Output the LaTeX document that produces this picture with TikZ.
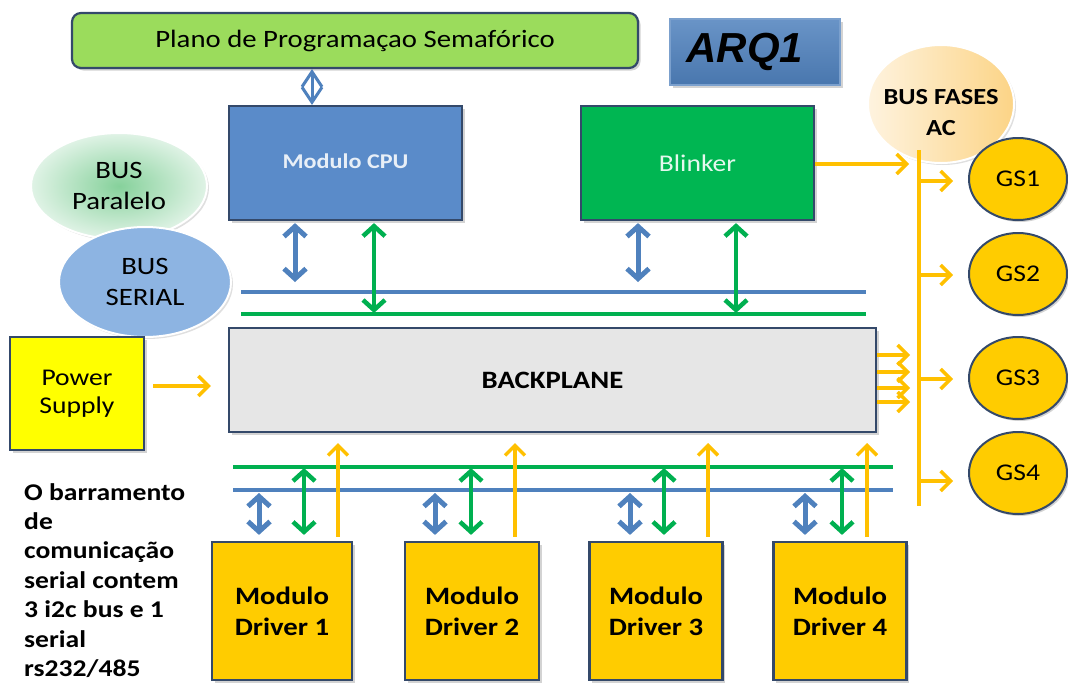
\documentclass[tikz,border=0pt]{standalone}
\usepackage{fontspec}
\setmainfont{Carlito}[FakeStretch=1.15]
\newfontfamily\arqfont{Liberation Sans}
\usetikzlibrary{arrows.meta,shapes.geometric,shadows}

\definecolor{planofill}{HTML}{9BDC5C}
\definecolor{edgeblue}{HTML}{34496A}
\definecolor{arqblue}{HTML}{4F81BD}
\definecolor{cpublue}{HTML}{5A8BC9}
\definecolor{blinkgreen}{HTML}{00B652}
\definecolor{backgray}{HTML}{E6E6E6}
\definecolor{psyellow}{HTML}{FFFF00}
\definecolor{gold}{HTML}{FFCC00}
\definecolor{amber}{HTML}{FFC000}
\definecolor{busblue}{HTML}{4F81BD}
\definecolor{busgreen}{HTML}{00B050}
\definecolor{serialblue}{HTML}{8DB4E2}
\definecolor{paraIn}{HTML}{86D19B}
\definecolor{paraOut}{HTML}{E0F3E6}
\definecolor{fasesL}{HTML}{FEF3DF}
\definecolor{fasesR}{HTML}{FCD486}

\newcommand\fsz[2]{\fontsize{#1}{#2}\selectfont}

\begin{document}
\begin{tikzpicture}[x=1pt,y=-1pt,
  box/.style={draw=edgeblue, line width=2.2pt, inner sep=0pt, align=center,
    drop shadow={shadow xshift=2.5pt,shadow yshift=-2.5pt,opacity=0.35}},
  bubble/.style={ellipse, inner sep=0pt, align=center, draw=white, line width=2pt,
    drop shadow={shadow xshift=2pt,shadow yshift=-2pt,opacity=0.25}},
  gsnode/.style={ellipse, draw=edgeblue, line width=2pt, fill=gold, inner sep=0pt,
    minimum width=98pt, minimum height=82pt, font=\fsz{24}{28},
    drop shadow={shadow xshift=2pt,shadow yshift=-2pt,opacity=0.35}},
  driver/.style={box, fill=gold, minimum height=138pt, font=\bfseries\fsz{25}{31}},
  bline/.style={draw=busblue, line width=4pt},
  gline/.style={draw=busgreen, line width=4.5pt},
  biblue/.style={draw=busblue, line width=5pt,
    {Straight Barb[length=10pt,width=22pt]}-{Straight Barb[length=10pt,width=22pt]}},
  bigreen/.style={draw=busgreen, line width=4.5pt,
    {Straight Barb[length=10pt,width=22pt]}-{Straight Barb[length=10pt,width=22pt]}},
  amb/.style={draw=amber, line width=3.5pt},
  ambarr/.style={amb, -{Straight Barb[length=10pt,width=20pt]}}]

\useasboundingbox (0,0) rectangle (1068,686);

% ---- bus bubbles on the left
\node[bubble, minimum width=176pt, minimum height=106pt, inner color=paraIn, outer color=paraOut,
      font=\fsz{25}{31}] (par) at (119,186) {BUS\\Paralelo};
\node[bubble, minimum width=172pt, minimum height=110pt, fill=serialblue,
      font=\fsz{25}{31}] (ser) at (145,282) {BUS\\SERIAL};

% ---- top blocks
\node[box, rounded corners=9pt, fill=planofill, minimum width=566pt, minimum height=55pt,
      font=\fsz{25}{30}] (plano) at (355,40.5) {Plano de Programaçao Semafórico};
\node[box, draw=arqblue!75!white, line width=1.5pt, top color=arqblue!85!white, bottom color=arqblue!92!black,
      minimum width=170pt, minimum height=66pt,
      font=\arqfont\bfseries\itshape\fsz{42}{46}] (arq) at (755,52) {ARQ1\hspace*{20pt}};
\node[box, fill=cpublue, minimum width=233pt, minimum height=114pt,
      text=white!86!cpublue, font=\bfseries\fsz{21}{25}] (cpu) at (345.5,163)
      {\raisebox{3pt}{Modulo CPU}};
\node[box, fill=blinkgreen, minimum width=233pt, minimum height=114pt,
      text=white!90!blinkgreen, font=\fsz{24}{28}] (blink) at (697.5,163) {Blinker};

% ---- phase bus bubble
\node[bubble, minimum width=146pt, minimum height=118pt, left color=fasesL, right color=fasesR,
      label={[yshift=-9pt, align=center, font=\bfseries\fsz{23}{31}]center:BUS FASES\\AC}]
      (fases) at (941,104) {};

% ---- backplane and power supply
\node[box, fill=backgray, minimum width=647pt, minimum height=104pt,
      font=\bfseries\fsz{25}{30}] (back) at (552.5,380) {BACKPLANE};
\node[box, fill=psyellow, minimum width=134pt, minimum height=113pt,
      font=\fsz{24}{31}] (power) at (77,393.5) {\raisebox{-3pt}{Power}\\Supply};

% ---- driver modules
\node[driver, minimum width=140pt] (d1) at (282,611) {Modulo\\Driver 1};
\node[driver, minimum width=134pt] (d2) at (472,611) {Modulo\\Driver 2};
\node[driver, minimum width=133pt] (d3) at (656,611) {Modulo\\Driver 3};
\node[driver, minimum width=133pt] (d4) at (840,611) {Modulo\\Driver 4};

% ---- signal groups
\node[gsnode] (g1) at (1018,179) {GS1};
\node[gsnode] (g2) at (1018,274) {GS2};
\node[gsnode] (g3) at (1018,378) {GS3};
\node[gsnode] (g4) at (1018,473) {GS4};

% ---- side note
\node[anchor=north west, align=left, inner sep=0pt, font=\bfseries\fsz{24}{29.4}] (note) at (24,483)
  {O barramento\\de\\comunicação\\serial contem\\3 i2c bus e 1\\serial\\rs232/485};

% ---- bus lines
\coordinate (sbL) at (241,292); \coordinate (sbR) at (866,292);
\coordinate (sgL) at (241,314); \coordinate (sgR) at (866,314);
\coordinate (lgL) at (233,467); \coordinate (lgR) at (893,467);
\coordinate (lbL) at (233,490); \coordinate (lbR) at (893,490);
\draw[bline] (sbL) -- (sbR);
\draw[gline] (sgL) -- (sgR);
\draw[gline] (lgL) -- (lgR);
\draw[bline] (lbL) -- (lbR);

% ---- programming plan link
\coordinate (dia) at (312,0);
\draw[draw=busblue, line width=3pt,
  {Straight Barb[length=15pt,width=20pt]}-{Straight Barb[length=15pt,width=20pt]}]
  (plano.south -| dia) -- (cpu.north -| dia);

% ---- CPU and blinker to upper buses
\coordinate (a1) at (295,282); \coordinate (a2) at (374,313);
\coordinate (a3) at (638,282); \coordinate (a4) at (736,313);
\draw[biblue, shorten <=2pt] (cpu.south -| a1) -- (a1);
\draw[bigreen, shorten <=2pt] (cpu.south -| a2) -- (a2);
\draw[biblue, shorten <=2pt] (blink.south -| a3) -- (a3);
\draw[bigreen, shorten <=2pt] (blink.south -| a4) -- (a4);

% ---- drivers to lower buses
\foreach \d/\xb/\xg in {d1/259/304, d2/435/471, d3/630/664, d4/805/842} {
  \coordinate (\d b) at (\xb,493);
  \coordinate (\d g) at (\xg,468);
  \draw[biblue, shorten <=6pt] (\d.north -| \d b) -- (\d b);
  \draw[bigreen, shorten <=6pt] (\d.north -| \d g) -- (\d g);
}
% ---- drivers feeding the backplane
\foreach \d/\xo in {d1/338, d2/515, d3/708, d4/867} {
  \coordinate (\d o) at (\xo,443);
  \draw[ambarr, shorten <=4pt] (\d.north -| \d o) -- (\d o);
}

% ---- power supply feed
\coordinate (pa) at (0,386);
\draw[ambarr, shorten <=8pt, shorten >=17pt] (power.east |- pa) -- (back.west |- pa);

% ---- phase bus
\coordinate (vt) at (919,150); \coordinate (vb) at (919,506);
\draw[amb] (vt) -- (vb);
\coordinate (fb) at (909,164);
\draw[ambarr] (blink.east |- fb) -- (fb);
\foreach \y [count=\i] in {355,372,388,402} {
  \coordinate (bp\i) at (910,\y);
  \draw[ambarr] (back.east |- bp\i) -- (bp\i);
}
\foreach \g/\y in {g1/181, g2/275, g3/379, g4/481} {
  \coordinate (v\g) at (919,\y);
  \draw[ambarr, shorten >=15pt] (v\g) -- (v\g -| \g.west);
}
\end{tikzpicture}
\end{document}
